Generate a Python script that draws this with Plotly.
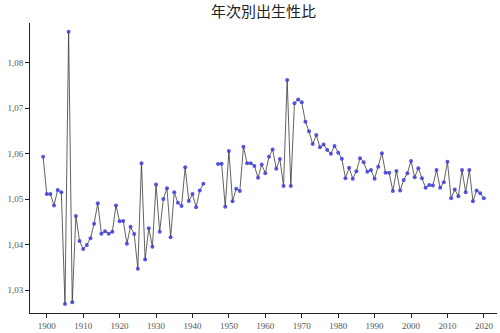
import plotly.graph_objects as go

years = list(range(1899, 2021))

ratio = [
    1.0593, 1.0511, 1.0511, 1.0486, 1.0520, 1.0515, 1.0269, 1.0868, 1.0273, 1.0463,  # 1899-1908
    1.0408, 1.0390, 1.0399, 1.0414, 1.0446, 1.0491, 1.0424, 1.0429, 1.0424, 1.0428,  # 1909-1918
    1.0486, 1.0451, 1.0452, 1.0402, 1.0439, 1.0423, 1.0347, 1.0579, 1.0367, 1.0436,  # 1919-1928
    1.0395, 1.0532, 1.0428, 1.0500, 1.0524, 1.0416, 1.0515, 1.0492, 1.0485, 1.0570,  # 1929-1938
    1.0496, 1.0511, 1.0482, 1.0519, 1.0534, None, None, None, 1.0577, 1.0578,        # 1939-1948
    1.0483, 1.0606, 1.0495, 1.0523, 1.0518, 1.0615, 1.0579, 1.0579, 1.0573, 1.0547,  # 1949-1958
    1.0576, 1.0557, 1.0593, 1.0609, 1.0567, 1.0588, 1.0529, 1.0762, 1.0529, 1.0711,  # 1959-1968
    1.0719, 1.0713, 1.0670, 1.0649, 1.0621, 1.0641, 1.0614, 1.0620, 1.0608, 1.0600,  # 1969-1978
    1.0617, 1.0602, 1.0589, 1.0546, 1.0569, 1.0545, 1.0561, 1.0590, 1.0581, 1.0560,  # 1979-1988
    1.0564, 1.0545, 1.0571, 1.0601, 1.0558, 1.0558, 1.0518, 1.0562, 1.0519, 1.0542,  # 1989-1998
    1.0557, 1.0584, 1.0548, 1.0568, 1.0546, 1.0525, 1.0531, 1.0530, 1.0564, 1.0525,  # 1999-2008
    1.0537, 1.0582, 1.0502, 1.0521, 1.0506, 1.0564, 1.0515, 1.0564, 1.0495, 1.0519,  # 2009-2018
    1.0513, 1.0502,                                                                  # 2019-2020
]

y_ticks = [1.03, 1.04, 1.05, 1.06, 1.07, 1.08]
y_tick_labels = ["1,03", "1,04", "1,05", "1,06", "1,07", "1,08"]
x_ticks = list(range(1900, 2021, 10))
x_tick_labels = [str(v) for v in x_ticks]

title_text = "年次別出生性比"

fig = go.Figure()
fig.add_trace(go.Scatter(
    x=years, y=ratio, mode="lines+markers",
    connectgaps=False,
    line=dict(color="#3a3a3a", width=0.8),
    marker=dict(size=4, color="rgba(60,60,225,0.85)", line=dict(width=0)),
    showlegend=False,
))

fig.update_layout(
    width=500, height=333,
    margin=dict(l=30, r=3, t=23, b=20),
    paper_bgcolor="white", plot_bgcolor="white",
    title=dict(text=title_text, x=0.527, xanchor="center", y=0.965, yanchor="middle",
               font=dict(family="Noto Sans CJK JP", size=15, color="#222")),
    font=dict(family="Liberation Serif", size=9, color="#555"),
)
fig.update_xaxes(
    range=[1895.4, 2023.6], tickvals=x_ticks, ticktext=x_tick_labels,
    showgrid=False, zeroline=False, showline=True, linecolor="#222", linewidth=1,
    ticks="outside", ticklen=4, tickcolor="#222", tickwidth=1,
    tickfont=dict(family="Liberation Serif", size=9, color="#555"),
)
fig.update_yaxes(
    range=[1.02494, 1.08874], tickvals=y_ticks, ticktext=y_tick_labels,
    showgrid=False, zeroline=False, showline=True, linecolor="#222", linewidth=1,
    ticks="outside", ticklen=4, tickcolor="#222", tickwidth=1,
    tickfont=dict(family="Liberation Serif", size=9, color="#555"),
)

fig.write_html("out.html")
